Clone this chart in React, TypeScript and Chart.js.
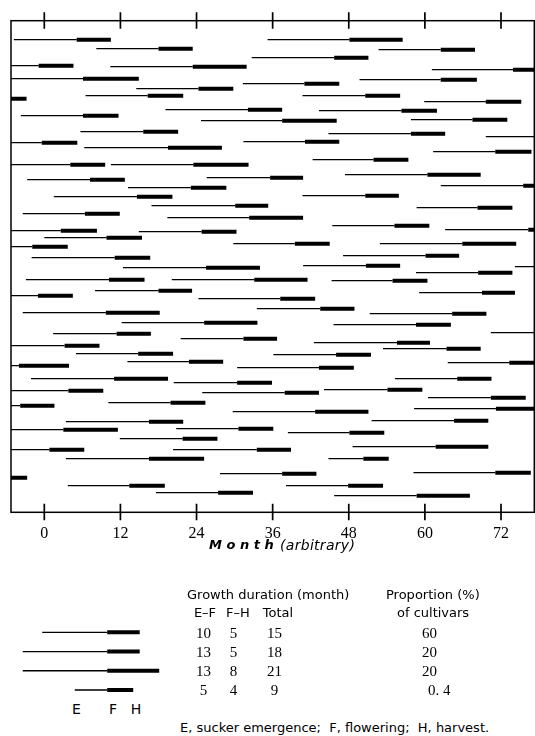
import React, { useEffect, useRef } from "react";
import { Chart, registerables } from "chart.js";

Chart.register(...registerables);

// Month axis ticks
const monthTicks = [0, 12, 24, 36, 48, 60, 72];

// One entry per crop cycle: row position (top = 0), emergence E, flowering F, harvest H (months)
const rowPos = [
  19, 19, 28, 29, 37, 45, 46, 49, 58, 59, 63, 68, 75, 75, 78, 81, 89, 90, 95, 100,
  99, 111, 113, 116, 122, 121, 127, 131, 139, 144, 144, 154, 157, 159, 165, 167, 175, 176, 185, 187,
  193, 197, 205, 209, 210, 211, 217, 223, 223, 226, 235, 237, 245, 246, 247, 252, 259, 259, 260, 270,
  272, 275, 278, 288, 292, 293, 302, 304, 312, 313, 318, 322, 325, 328, 333, 334, 341, 342, 345, 347,
  358, 358, 362, 369, 370, 372, 377, 382, 385, 388, 391, 400, 401, 408, 409, 412, 418, 426, 429, 429,
  438, 438, 452, 453, 457, 465, 465, 472, 475,
];
const emergence = [
  -4.8, 35.2, 8.2, 52.7, 32.7, -11, 10.4, 61.1, -6, 49.7, 31.3, 14.5, 6.5, 40.7, -15, 59.9, 19.1, 43.3, -3.7, 24.7,
  57.8, 5.7, 44.8, 69.6, -10.4, 31.4, 6.3, 61.3, 42.3, -6, 10.5, 47.4, 25.6, -2.7, 62.5, 13.2, 40.7, 1.5, 16.9, 58.7,
  -3.4, 19.4, 45.4, 63.2, -7, 14.9, 0, 29.8, 52.9, -11, 47.1, -2.0, 40.8, 74.2, 12.4, 58.6, -2.9, 20.1, 45.3, 8.0,
  59.1, -10, 24.3, 33.5, -3.4, 51.3, 12.2, 45.6, 70.4, 1.4, 21.5, 42.5, -7, 53.4, 5.0, 36.1, 13.1, 63.6, -17, 30.4,
  -2.1, 55.3, 20.4, 44.1, -6, 24.9, 60.5, 10.1, -10, 58.3, 29.7, 51.6, 3.4, 20.8, -10, 38.4, 11.9, 48.6, -9.2, 20.3,
  44.8, 3.4, 58.2, 27.7, -15, 3.7, 38.1, 17.6, 45.7,
];
const flowering = [
  5.1, 48.1, 18.0, 62.5, 45.7, -0.9, 23.4, 73.9, 6.1, 62.5, 41.0, 24.3, 16.3, 50.6, -7, 69.6, 32.1, 56.3, 6.1, 37.5,
  67.5, 15.6, 57.8, 79.6, -0.4, 41.1, 19.5, 71.1, 51.9, 4.1, 23.5, 60.4, 35.6, 7.2, 75.5, 23.1, 50.6, 14.6, 30.1, 68.3,
  6.4, 32.3, 55.2, 76.3, 2.6, 24.8, 9.8, 39.5, 65.9, -1.9, 60.1, 11.1, 50.7, 84, 25.5, 68.4, 10.2, 33.1, 54.9, 18.0,
  69.0, -1, 37.2, 43.5, 9.7, 64.3, 25.2, 58.6, 80.4, 11.4, 31.4, 55.6, 3.2, 63.4, 14.8, 46.0, 22.8, 73.3, -4, 43.3,
  11.0, 65.1, 30.4, 54.1, 3.8, 37.9, 70.4, 19.9, -3.8, 71.2, 42.7, 64.6, 16.5, 30.6, 3.0, 48.1, 21.8, 61.7, 0.8, 33.5,
  50.3, 16.5, 71.1, 37.5, -7, 13.4, 47.9, 27.4, 58.7,
];
const harvest = [
  10.5, 56.5, 23.4, 67.9, 51.1, 4.6, 31.9, 79, 14.9, 68.2, 46.5, 29.8, 21.9, 56.1, -2.8, 75.2, 37.5, 61.9, 11.7, 46.1,
  73.0, 21.1, 63.2, 84.6, 5.2, 46.5, 28.0, 76.8, 57.4, 9.6, 32.2, 68.8, 40.8, 12.7, 80.5, 28.7, 55.9, 20.2, 35.3, 73.8,
  11.9, 40.8, 60.7, 82, 8.3, 30.3, 15.4, 45.0, 74.4, 3.7, 65.4, 16.7, 56.1, 89, 34.0, 73.8, 15.8, 41.5, 60.4, 23.3,
  74.2, 4.5, 42.7, 48.9, 18.2, 69.7, 33.6, 64.1, 85, 16.8, 36.7, 60.8, 8.7, 68.8, 20.3, 51.5, 28.2, 78.5, 3.9, 48.8,
  19.5, 70.5, 35.9, 59.6, 9.3, 43.3, 75.9, 25.4, 1.6, 79, 51.1, 70.0, 21.9, 36.1, 11.6, 53.6, 27.3, 70.0, 6.3, 38.9,
  54.3, 25.2, 76.7, 42.9, -2.7, 19.0, 53.4, 32.9, 67.1,
];

// Legend / table below the chart
const legendEF = [10, 13, 13, 5];
const legendFH = [5, 5, 8, 4];
const legendTotal = [15, 18, 21, 9];
const legendShare = ["60", "20", "20", "0. 4"];

const framePlugin = {
  id: "frameTicks",
  afterDatasetsDraw(chart: any) {
    const { ctx, chartArea } = chart;
    const { left, top, right, bottom } = chartArea;
    const xs = chart.scales.x;
    ctx.save();
    ctx.strokeStyle = "#000";
    ctx.lineWidth = 1.5;
    ctx.strokeRect(left, top, right - left, bottom - top);
    ctx.lineWidth = 1.7;
    ctx.beginPath();
    monthTicks.forEach((v) => {
      const px = xs.getPixelForValue(v);
      ctx.moveTo(px, top - 8.5);
      ctx.lineTo(px, top + 8);
      ctx.moveTo(px, bottom - 8.5);
      ctx.lineTo(px, bottom + 8);
    });
    ctx.stroke();
    ctx.restore();
  },
};

function buildSegments(rows: number[], e: number[], f: number[], h: number[]) {
  const thin: any[] = [];
  const thick: any[] = [];
  rows.forEach((r, i) => {
    thin.push({ x: e[i], y: r }, { x: f[i], y: r }, { x: f[i], y: null });
    thick.push({ x: f[i], y: r }, { x: h[i], y: r }, { x: h[i], y: null });
  });
  return { thin, thick };
}

function MainChart() {
  const ref = useRef<HTMLCanvasElement | null>(null);
  useEffect(() => {
    if (!ref.current) return;
    const { thin, thick } = buildSegments(rowPos, emergence, flowering, harvest);
    const chart = new Chart(ref.current, {
      type: "scatter",
      data: {
        datasets: [
          {
            data: thin,
            showLine: true,
            borderColor: "#000",
            borderWidth: 1.3,
            pointRadius: 0,
            spanGaps: false,
            clip: 0,
          } as any,
          {
            data: thick,
            showLine: true,
            borderColor: "#000",
            borderWidth: 3.9,
            borderCapStyle: "butt",
            pointRadius: 0,
            spanGaps: false,
            clip: 0,
          } as any,
        ],
      },
      options: {
        animation: false,
        responsive: false,
        devicePixelRatio: 1,
        layout: { padding: { left: 11, top: 20.7, right: 0.7, bottom: 0 } },
        plugins: { legend: { display: false }, tooltip: { enabled: false } },
        scales: {
          x: {
            type: "linear",
            position: "bottom",
            min: -5.25,
            max: 77.25,
            grid: { display: false, drawTicks: false },
            border: { display: false },
            ticks: {
              color: "#000",
              font: { family: '"Liberation Serif", "DejaVu Serif", serif', size: 16 },
              padding: 12,
              autoSkip: false,
              maxRotation: 0,
              callback: (v: any) => String(v),
            },
            afterBuildTicks: (s: any) => {
              s.ticks = monthTicks.map((v) => ({ value: v }));
            },
            afterFit: (s: any) => {
              s.height = 47.7;
            },
          },
          y: { type: "linear", display: false, min: 0, max: 491.6, reverse: true },
        },
      } as any,
      plugins: [framePlugin],
    });
    return () => chart.destroy();
  }, []);
  return (
    <canvas
      ref={ref}
      width={535}
      height={560}
      style={{ position: "absolute", left: 0, top: 0, width: 535, height: 560 }}
    />
  );
}

function LegendChart() {
  const ref = useRef<HTMLCanvasElement | null>(null);
  useEffect(() => {
    if (!ref.current) return;
    const rows = legendEF.map((_, i) => i);
    const e = legendEF.map((v) => -v);
    const f = legendEF.map(() => 0);
    const h = legendFH.map((v) => v);
    const { thin, thick } = buildSegments(rows, e, f, h);
    const chart = new Chart(ref.current, {
      type: "scatter",
      data: {
        datasets: [
          { data: thin, showLine: true, borderColor: "#000", borderWidth: 1.3, pointRadius: 0, spanGaps: false } as any,
          { data: thick, showLine: true, borderColor: "#000", borderWidth: 4, pointRadius: 0, spanGaps: false } as any,
        ],
      },
      options: {
        animation: false,
        responsive: false,
        devicePixelRatio: 1,
        layout: { padding: 0 },
        plugins: { legend: { display: false }, tooltip: { enabled: false } },
        scales: {
          x: { type: "linear", display: false, min: -16.5, max: 11.2 },
          y: { type: "linear", display: false, min: -0.64, max: 3.52, reverse: true },
        },
      } as any,
    });
    return () => chart.destroy();
  }, []);
  return (
    <canvas
      ref={ref}
      width={180}
      height={80}
      style={{ position: "absolute", left: 0, top: 620, width: 180, height: 80 }}
    />
  );
}

const sans = '"DejaVu Sans", "Noto Sans", sans-serif';
const serif = '"Liberation Serif", "DejaVu Serif", serif';

function T({ x, y, children, center, style }: any) {
  const base: any = {
    position: "absolute",
    top: y - 8,
    lineHeight: "16px",
    whiteSpace: "pre",
    fontFamily: sans,
    fontSize: 13,
    color: "#000",
  };
  if (center) {
    base.left = x - 30;
    base.width = 60;
    base.textAlign = "center";
  } else {
    base.left = x;
  }
  return <div style={{ ...base, ...style }}>{children}</div>;
}

export default function App() {
  const rowY = [632.7, 651.7, 670.5, 689.7];
  return (
    <div style={{ position: "absolute", left: 0, top: 0, width: 535, height: 736, background: "#fff", overflow: "hidden" }}>
      <MainChart />
      <LegendChart />
      <T x={209} y={545} style={{ fontSize: 13, fontStyle: "italic", fontWeight: "bold" }}>M o n t h</T>
      <T x={280} y={545} style={{ fontSize: 14, fontStyle: "italic", letterSpacing: 0.3 }}>(arbitrary)</T>

      <T x={187} y={595}>Growth duration (month)</T>
      <T x={386} y={595}>Proportion (%)</T>
      <T x={205} y={613} center>E–F</T>
      <T x={238} y={613} center>F–H</T>
      <T x={278} y={613} center>Total</T>
      <T x={397} y={613}>of cultivars</T>
      {rowY.map((y, i) => (
        <React.Fragment key={i}>
          <T x={203.5} y={y} center style={{ fontFamily: serif, fontSize: 15 }}>{String(legendEF[i])}</T>
          <T x={233.5} y={y} center style={{ fontFamily: serif, fontSize: 15 }}>{String(legendFH[i])}</T>
          <T x={274.5} y={y} center style={{ fontFamily: serif, fontSize: 15 }}>{String(legendTotal[i])}</T>
          <T x={legendShare[i].includes(".") ? 428 : 422} y={y} style={{ fontFamily: serif, fontSize: 15 }}>{legendShare[i]}</T>
        </React.Fragment>
      ))}
      <T x={76.5} y={709} center style={{ fontSize: 14 }}>E</T>
      <T x={113} y={709} center style={{ fontSize: 14 }}>F</T>
      <T x={136} y={709} center style={{ fontSize: 14 }}>H</T>
      <T x={180} y={728}>E, sucker emergence;  F, flowering;  H, harvest.</T>
    </div>
  );
}
